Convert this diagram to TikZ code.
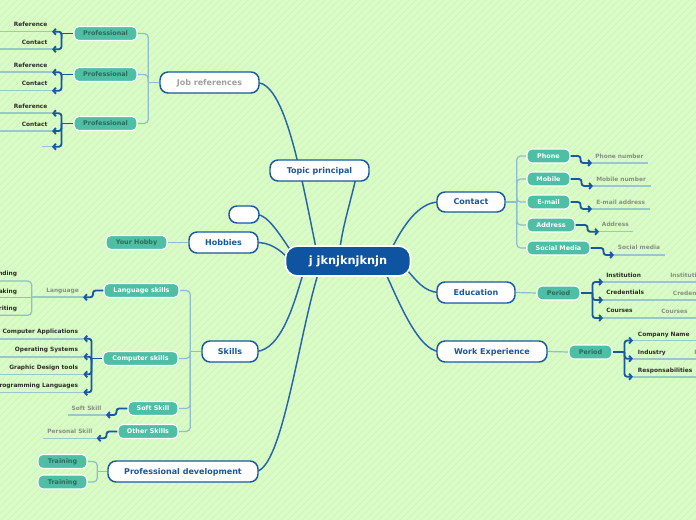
\documentclass[tikz,border=0pt]{standalone}
\usepackage{fontspec}
\setmainfont{DejaVu Sans}
\usetikzlibrary{arrows.meta}
\pgfdeclarelayer{background}
\pgfsetlayers{background,main}
\definecolor{bgcol}{RGB}{217,251,197}
\definecolor{stripecol}{RGB}{206,241,189}
\definecolor{dblue}{RGB}{24,88,160}
\definecolor{cblue}{RGB}{14,84,160}
\definecolor{curvecol}{RGB}{40,100,170}
\definecolor{lconncol}{RGB}{140,190,205}
\definecolor{ulinecol}{RGB}{152,200,206}
\definecolor{tealnode}{RGB}{78,190,165}
\definecolor{tealtxt}{RGB}{46,106,92}
\definecolor{graytxt}{RGB}{135,145,135}
\definecolor{darktxt}{RGB}{45,45,45}
\definecolor{jobgray}{RGB}{160,160,160}
\begin{document}
\begin{tikzpicture}[x=0.75pt,y=-0.75pt,
 mainbox/.style={draw=dblue, line width=1.1pt, fill=white, rounded corners=6pt, minimum height=15.75pt, inner sep=0pt, text=dblue, font=\fontsize{6}{7}\selectfont\bfseries, text height=4.4pt, text depth=0.6pt},
 centerbox/.style={draw=white, line width=1.2pt, fill=cblue, rounded corners=9pt, minimum width=93.75pt, minimum height=22.5pt, inner sep=0pt, text=white, font=\fontsize{8.5}{10}\selectfont\bfseries},
 subbox/.style={draw=white, line width=0.8pt, fill=tealnode, rounded corners=3.75pt, minimum height=10.5pt, inner sep=0pt, text=white, font=\fontsize{4.8}{5.5}\selectfont\bfseries, text height=3.5pt, text depth=0.4pt},
 subdark/.style={subbox, text=tealtxt},
 maincurve/.style={draw=curvecol, line width=1.1pt},
 lightline/.style={draw=lconncol, line width=0.9pt},
 lightround/.style={lightline, rounded corners=3pt},
 thickline/.style={draw=dblue, line width=1.4pt},
 leafline/.style={thickline, rounded corners=2pt, -{Straight Barb[length=2pt,width=4.5pt]}},
 uline/.style={draw=ulinecol, line width=1.2pt},
 leafdark/.style={text=darktxt, font=\fontsize{4.4}{5}\selectfont\bfseries, inner sep=0pt, text height=3.2pt, text depth=0pt},
 leafgray/.style={leafdark, text=graytxt}
]
\useasboundingbox (0,0) rectangle (696,520);
\clip (0,0) rectangle (696,520);

% ---------- main nodes ----------
\node[centerbox] (center) at (348,261) {j jknjknjknjn};
\node[mainbox, minimum width=74.25pt] (topic) at (319.5,170.5) {Topic principal};
\node[mainbox, minimum width=74.25pt, text=jobgray] (jobref) at (209.5,82.5) {Job references};
\node[mainbox, minimum width=22.5pt, minimum height=12.75pt] (empty) at (244,214.5) {};
\node[mainbox, minimum width=51.75pt] (hobbies) at (223.5,242.5) {Hobbies};
\node[mainbox, minimum width=42pt] (skills) at (230,351.5) {Skills};
\node[mainbox, minimum width=112.5pt] (profdev) at (183,471.5) {Professional development};
\node[mainbox, minimum width=51pt, minimum height=15pt] (contact) at (471,202) {Contact};
\node[mainbox, minimum width=58.5pt] (education) at (476,292.5) {Education};
\node[mainbox, minimum width=82.5pt] (work) at (492,351.5) {Work Experience};

% ---------- sub nodes ----------
\node[subdark, minimum width=47.25pt] (prof1) at (105.5,33.5) {Professional};
\node[subdark, minimum width=47.25pt] (prof2) at (105.5,74.5) {Professional};
\node[subdark, minimum width=47.25pt] (prof3) at (105.5,123.5) {Professional};
\node[subdark, minimum width=45.75pt] (yourhobby) at (136.5,242.5) {Your Hobby};
\node[subbox, minimum width=56.25pt] (lang) at (141.5,290.5) {Language skills};
\node[subbox, minimum width=56.25pt] (comp) at (140.5,358.5) {Computer skills};
\node[subbox, minimum width=37.5pt] (soft) at (153,408.5) {Soft Skill};
\node[subbox, minimum width=45pt] (other) at (148,431.5) {Other Skills};
\node[subdark, minimum width=36.75pt] (train1) at (62.5,461.5) {Training};
\node[subdark, minimum width=36.75pt] (train2) at (62.5,482) {Training};
\node[subbox, minimum width=32.25pt] (phone) at (548.5,156) {Phone};
\node[subbox, minimum width=32.25pt] (mobile) at (548.5,179) {Mobile};
\node[subbox, minimum width=32.25pt] (email) at (548.5,202) {E-mail};
\node[subbox, minimum width=36pt] (address) at (551,225) {Address};
\node[subbox, minimum width=47.25pt] (social) at (558.5,248) {Social Media};
\node[subdark, minimum width=32.25pt] (period1) at (558.5,293) {Period};
\node[subdark, minimum width=32.25pt] (period2) at (590.5,352) {Period};

% ---------- background, curves, light connectors ----------
\begin{pgfonlayer}{background}
 \begin{scope}
  \clip (0,0) rectangle (696,520);
  \fill[bgcol] (0,0) rectangle (696,520);
  \foreach \k in {-524,-517,...,700} \draw[stripecol, line width=0.35pt] (\k,520) -- (\k+520,0);
 \end{scope}
 \draw[maincurve] ([shift={(48,0)}]jobref.center) .. controls (285,85) and (300,170) .. ([shift={(-32,-13)}]center.center);
 \draw[maincurve] ([shift={(36,9)}]topic.center) .. controls (351,200) and (343,225) .. ([shift={(-8,-13)}]center.center);
 \draw[maincurve] ([shift={(13,0)}]empty.center) .. controls (268,215) and (280,235) .. ([shift={(-57,-10)}]center.center);
 \draw[maincurve] ([shift={(32,0)}]hobbies.center) .. controls (270,242) and (280,250) .. ([shift={(-60,-3)}]center.center);
 \draw[maincurve] ([shift={(26,0)}]skills.center) .. controls (282,350) and (295,300) .. ([shift={(-45,13)}]center.center);
 \draw[maincurve] ([shift={(73,0)}]profdev.center) .. controls (282,468) and (298,340) .. ([shift={(-30,13)}]center.center);
 \draw[maincurve] ([shift={(-32,0)}]contact.center) .. controls (418,202) and (402,228) .. ([shift={(44,-13)}]center.center);
 \draw[maincurve] ([shift={(-37,0)}]education.center) .. controls (424,292) and (416,280) .. ([shift={(59,9)}]center.center);
 \draw[maincurve] ([shift={(-53,0)}]work.center) .. controls (418,350) and (398,300) .. ([shift={(38,13)}]center.center);

 % job references
 \path (jobref.west) ++(-11,0) coordinate (jsp);
 \draw[lightline] (jobref.west) -- (jsp);
 \draw[lightround] (jsp) |- (prof1.east);
 \draw[lightround] (jsp) |- (prof2.east);
 \draw[lightround] (jsp) |- (prof3.east);
 % hobbies
 \draw[lightline] (hobbies.west) -- (yourhobby.east);
 % skills
 \path (skills.west) ++(-11,0) coordinate (ssp);
 \draw[lightline] (skills.west) -- (ssp);
 \draw[lightround] (ssp) |- (lang.east);
 \draw[lightround] (ssp) |- (comp.east);
 \draw[lightround] (ssp) |- (soft.east);
 \draw[lightround] (ssp) |- (other.east);
 % professional development
 \path (profdev.west) ++(-10,0) coordinate (pdsp);
 \draw[lightline] (profdev.west) -- (pdsp);
 \draw[lightround] (pdsp) |- (train1.east);
 \draw[lightround] (pdsp) |- (train2.east);
 % contact
 \path (contact.east) ++(11,0) coordinate (csp);
 \draw[lightline] (contact.east) -- (csp);
 \draw[lightround] (csp) |- (phone.west);
 \draw[lightround] (csp) |- (mobile.west);
 \draw[lightround] (csp) |- (email.west);
 \draw[lightround] (csp) |- (address.west);
 \draw[lightround] (csp) |- (social.west);
 % education / work
 \draw[lightline] (education.east) -- (period1.west);
 \draw[lightline] (work.east) -- (period2.west);
\end{pgfonlayer}

% ---------- contact leaves ----------
\coordinate (phA) at (592,163); \coordinate (phB) at (648,163);
\draw[uline] (phA) -- (phB);
\draw[leafline] (phone.east) -- ++(10,0) |- (phA);
\node[leafgray, anchor=west] (phT) at (595,156) {Phone number};

\coordinate (moA) at (593,186); \coordinate (moB) at (651,186);
\draw[uline] (moA) -- (moB);
\draw[leafline] (mobile.east) -- ++(11,0) |- (moA);
\node[leafgray, anchor=west] (moT) at (596,179) {Mobile number};

\coordinate (emA) at (592,209); \coordinate (emB) at (650,209);
\draw[uline] (emA) -- (emB);
\draw[leafline] (email.east) -- ++(10,0) |- (emA);
\node[leafgray, anchor=west] (emT) at (596,202) {E-mail address};

\coordinate (adA) at (599,231.7); \coordinate (adB) at (633,231.7);
\draw[uline] (adA) -- (adB);
\draw[leafline] (address.east) -- ++(12,0) |- (adA);
\node[leafgray, anchor=west] (adT) at (601.7,224) {Address};

\coordinate (soA) at (614,255); \coordinate (soB) at (665,255);
\draw[uline] (soA) -- (soB);
\draw[leafline] (social.east) -- ++(13,0) |- (soA);
\node[leafgray, anchor=west] (soT) at (617.7,247.7) {Social media};

% ---------- education leaves ----------
\path (period1.east) ++(12,0) coordinate (esp);
\coordinate (inA) at (603,282); \coordinate (inB) at (700,282);
\coordinate (crA) at (603,300); \coordinate (crB) at (700,300);
\coordinate (coA) at (603,318); \coordinate (coB) at (700,318);
\draw[uline] (inA) -- (inB);
\draw[uline] (crA) -- (crB);
\draw[uline] (coA) -- (coB);
\draw[thickline] (period1.east) -- (esp);
\draw[leafline] (esp) |- (inA);
\draw[leafline] (esp) |- (crA);
\draw[leafline] (esp) |- (coA);
\node[leafdark, anchor=west] (inT) at (606,275) {Institution};
\node[leafdark, anchor=west] (crT) at (606,292.5) {Credentials};
\node[leafdark, anchor=west] (coT) at (606,310.7) {Courses};
\node[leafgray, anchor=west] (inG) at (670,275) {Institution};
\node[leafgray, anchor=west] (crG) at (672.7,293.3) {Credentials};
\node[leafgray, anchor=west] (coG) at (661,311.5) {Courses};

% ---------- work leaves ----------
\path (period2.east) ++(12,0) coordinate (wsp);
\coordinate (cnA) at (633,340.5); \coordinate (cnB) at (700,340.5);
\coordinate (idA) at (633,358.7); \coordinate (idB) at (700,358.7);
\coordinate (rsA) at (633,376.7); \coordinate (rsB) at (700,376.7);
\draw[uline] (cnA) -- (cnB);
\draw[uline] (idA) -- (idB);
\draw[uline] (rsA) -- (rsB);
\draw[thickline] (period2.east) -- (wsp);
\draw[leafline] (wsp) |- (cnA);
\draw[leafline] (wsp) |- (idA);
\draw[leafline] (wsp) |- (rsA);
\node[leafdark, anchor=west] (cnT) at (637.7,334.3) {Company Name};
\node[leafdark, anchor=west] (idT) at (637.7,352.7) {Industry};
\node[leafdark, anchor=west] (rsT) at (637.7,370.7) {Responsabilities};
\node[leafgray, anchor=west] (idG) at (694,352.7) {Industry};

% ---------- job reference leaves ----------
\path (prof1.west) ++(-12,0) coordinate (j1);
\coordinate (r1A) at (52,31.7); \coordinate (r1B) at (-5,31.7);
\coordinate (c1A) at (52,49.3); \coordinate (c1B) at (-5,49.3);
\draw[uline] (r1A) -- (r1B);
\draw[uline] (c1A) -- (c1B);
\draw[thickline] (prof1.west) -- (j1);
\draw[leafline] (j1) |- (r1A);
\draw[leafline] (j1) |- (c1A);
\node[leafdark, anchor=east] (r1T) at (47.7,24.3) {Reference};
\node[leafdark, anchor=east] (c1T) at (47.7,42.3) {Contact};

\path (prof2.west) ++(-12,0) coordinate (j2);
\coordinate (r2A) at (52,72.3); \coordinate (r2B) at (-5,72.3);
\coordinate (c2A) at (52,90.7); \coordinate (c2B) at (-5,90.7);
\draw[uline] (r2A) -- (r2B);
\draw[uline] (c2A) -- (c2B);
\draw[thickline] (prof2.west) -- (j2);
\draw[leafline] (j2) |- (r2A);
\draw[leafline] (j2) |- (c2A);
\node[leafdark, anchor=east] (r2T) at (47.7,65.3) {Reference};
\node[leafdark, anchor=east] (c2T) at (47.7,83.3) {Contact};

\path (prof3.west) ++(-12,0) coordinate (j3);
\coordinate (r3A) at (52,113.3); \coordinate (r3B) at (-5,113.3);
\coordinate (c3A) at (52,131); \coordinate (c3B) at (-5,131);
\coordinate (e3A) at (52,146.7); \coordinate (e3B) at (42,146.7);
\draw[uline] (r3A) -- (r3B);
\draw[uline] (c3A) -- (c3B);
\draw[uline] (e3A) -- (e3B);
\draw[thickline] (prof3.west) -- (j3);
\draw[leafline] (j3) |- (r3A);
\draw[leafline] (j3) |- (c3A);
\draw[leafline] (j3) |- (e3A);
\node[leafdark, anchor=east] (r3T) at (47.7,106.3) {Reference};
\node[leafdark, anchor=east] (c3T) at (47.7,124.3) {Contact};

% ---------- skills leaves ----------
\coordinate (laA) at (83,297.3); \coordinate (laB) at (31.7,297.3);
\draw[uline] (laA) -- (laB);
\draw[leafline] (lang.west) -- ++(-10.5,0) |- (laA);
\node[leafgray, anchor=east] (laT) at (79,290.7) {Language};
\draw[lightround] (-5,281) -| (laB) |- (-5,315.3);
\draw[lightline] (laB) -- (-5,297.3);
\node[leafdark, anchor=east] (unT) at (17.3,273.7) {Understanding};
\node[leafdark, anchor=east] (spT) at (17.3,291) {Speaking};
\node[leafdark, anchor=east] (wrT) at (17.3,308.7) {Writing};

\path (comp.west) ++(-11,0) coordinate (ksp);
\coordinate (caA) at (83.3,338.7); \coordinate (caB) at (-5,338.7);
\coordinate (osA) at (83.3,356.7); \coordinate (osB) at (-5,356.7);
\coordinate (gdA) at (83.3,374.3); \coordinate (gdB) at (-5,374.3);
\coordinate (plA) at (83.3,392.3); \coordinate (plB) at (-5,392.3);
\draw[uline] (caA) -- (caB);
\draw[uline] (osA) -- (osB);
\draw[uline] (gdA) -- (gdB);
\draw[uline] (plA) -- (plB);
\draw[thickline] (comp.west) -- (ksp);
\draw[leafline] (ksp) |- (caA);
\draw[leafline] (ksp) |- (osA);
\draw[leafline] (ksp) |- (gdA);
\draw[leafline] (ksp) |- (plA);
\node[leafdark, anchor=east] (caT) at (78.3,331.3) {Computer Applications};
\node[leafdark, anchor=east] (osT) at (78.3,349.7) {Operating Systems};
\node[leafdark, anchor=east] (gdT) at (78.3,367.7) {Graphic Design tools};
\node[leafdark, anchor=east] (plT) at (78.3,385.7) {Programming Languages};

\coordinate (ssA) at (106,415); \coordinate (ssB) at (68.3,415);
\draw[uline] (ssA) -- (ssB);
\draw[leafline] (soft.west) -- ++(-11,0) |- (ssA);
\node[leafgray, anchor=east] (ssT) at (101.7,408.3) {Soft Skill};

\coordinate (psA) at (96.7,438.3); \coordinate (psB) at (42.7,438.3);
\draw[uline] (psA) -- (psB);
\draw[leafline] (other.west) -- ++(-11,0) |- (psA);
\node[leafgray, anchor=east] (psT) at (92.7,431.7) {Personal Skill};
\end{tikzpicture}
\end{document}
